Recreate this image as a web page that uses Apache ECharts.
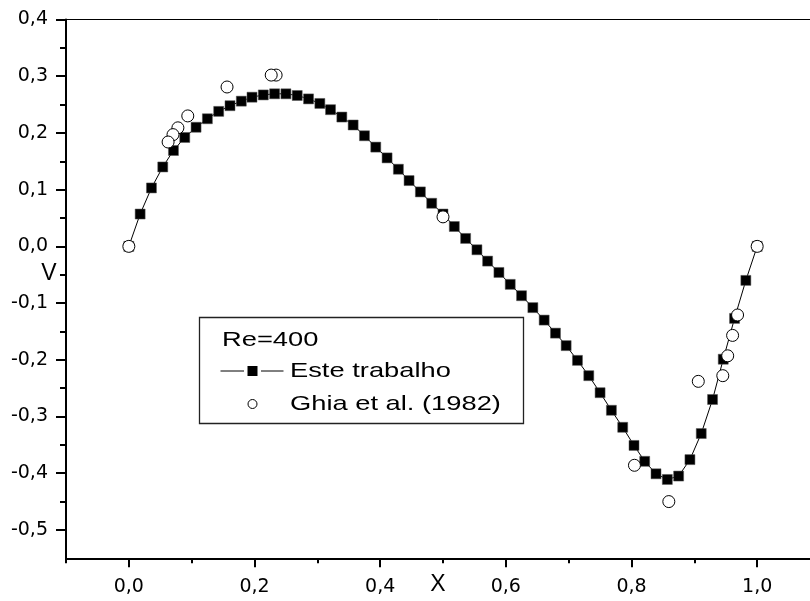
<!DOCTYPE html>
<html>
<head>
<meta charset="utf-8">
<script src="https://cdn.jsdelivr.net/npm/echarts@6/dist/echarts.min.js"></script>
<style>
  html, body { margin: 0; padding: 0; background: #fff; }
  #chart { width: 810px; height: 601px; }
</style>
</head>
<body>
<div id="chart"></div>
<script>
// Vertical velocity V along the horizontal centre line of the cavity, Re = 400
const xPresent = [0, 0.018, 0.036, 0.054, 0.071, 0.089, 0.107, 0.125, 0.143, 0.161,
  0.179, 0.196, 0.214, 0.232, 0.250, 0.268, 0.286, 0.304, 0.321, 0.339,
  0.357, 0.375, 0.393, 0.411, 0.429, 0.446, 0.464, 0.482, 0.500, 0.518,
  0.536, 0.554, 0.571, 0.589, 0.607, 0.625, 0.643, 0.661, 0.679, 0.696,
  0.714, 0.732, 0.750, 0.768, 0.786, 0.804, 0.821, 0.839, 0.857, 0.875,
  0.893, 0.911, 0.929, 0.946, 0.964, 0.982, 1.0];
const vPresent = [0, 0.057, 0.103, 0.140, 0.169, 0.192, 0.210, 0.225, 0.238, 0.248,
  0.256, 0.263, 0.267, 0.269, 0.269, 0.266, 0.260, 0.252, 0.241, 0.228,
  0.214, 0.195, 0.175, 0.156, 0.136, 0.116, 0.096, 0.076, 0.057, 0.035,
  0.014, -0.006, -0.026, -0.046, -0.067, -0.087, -0.108, -0.130, -0.153, -0.175,
  -0.201, -0.228, -0.258, -0.289, -0.319, -0.351, -0.379, -0.401, -0.411, -0.405,
  -0.376, -0.330, -0.270, -0.199, -0.127, -0.060, 0];

// Reference values, Ghia et al. (1982)
const xGhia = [1.0000, 0.9688, 0.9609, 0.9531, 0.9453, 0.9063, 0.8594, 0.8047, 0.5000,
  0.2344, 0.2266, 0.1563, 0.0938, 0.0781, 0.0703, 0.0625, 0.0000];
const vGhia = [0.000, -0.121, -0.157, -0.193, -0.228, -0.238, -0.450, -0.386, 0.052,
  0.302, 0.302, 0.281, 0.230, 0.209, 0.197, 0.184, 0.000];

const seriesNames = ['Este trabalho', 'Ghia et al. (1982)'];
const legendTitle = 'Re=400';
const xAxisTitle = 'X';
const yAxisTitle = 'V';

const xMajorTicks = [0, 0.2, 0.4, 0.6, 0.8, 1.0];
const xMinorTicks = [-0.1, 0.1, 0.3, 0.5, 0.7, 0.9, 1.1];
const yMajorTicks = [-0.5, -0.4, -0.3, -0.2, -0.1, 0, 0.1, 0.2, 0.3, 0.4];
const yMinorTicks = [-0.45, -0.35, -0.25, -0.15, -0.05, 0.05, 0.15, 0.25, 0.35];

const BLACK = '#000';
const tickFont = 'DejaVu Sans';
const textFont = '"Liberation Sans", Arial, sans-serif';
const fmt = v => (Math.abs(v) < 1e-9 ? 0 : v).toFixed(1).replace('.', ',');

const xRange = { min: -0.1, max: 1.1 };
const yRange = { min: -0.55, max: 0.4 };
const noSplit = { splitLine: { show: false } };

const chart = echarts.init(document.getElementById('chart'), null, { renderer: 'canvas' });

// legend texts are drawn slightly widened, like the rest of the lettering
const legendText = (text, x, y) => ({
  type: 'text', z: 11, x: x, y: y, scaleX: 1.3,
  style: { text: text, font: '21px ' + textFont, fill: BLACK,
    verticalAlign: 'middle', textVerticalAlign: 'middle' }
});

chart.setOption({
  animation: false,
  backgroundColor: '#fff',
  grid: { left: 66, top: 19.5, right: -10, bottom: 42.7,
    containLabel: false, outerBoundsMode: 'none' },
  xAxis: [
    {
      type: 'value', position: 'bottom', ...xRange, ...noSplit,
      axisLine: { onZero: false, lineStyle: { color: BLACK, width: 2 } },
      axisTick: { customValues: xMajorTicks, length: 9, lineStyle: { color: BLACK, width: 2 } },
      axisLabel: { customValues: xMajorTicks, formatter: fmt, margin: 19,
        color: BLACK, fontFamily: tickFont, fontSize: 19 }
    },
    {
      type: 'value', position: 'bottom', ...xRange, ...noSplit,
      axisLine: { show: false, onZero: false },
      axisTick: { customValues: xMinorTicks, length: 5, lineStyle: { color: BLACK, width: 2 } },
      axisLabel: { show: false }
    },
    {
      type: 'value', position: 'top', ...xRange, ...noSplit,
      axisLine: { onZero: false, lineStyle: { color: BLACK, width: 1 } },
      axisTick: { show: false },
      axisLabel: { show: false }
    }
  ],
  yAxis: [
    {
      type: 'value', position: 'left', ...yRange, ...noSplit,
      axisLine: { onZero: false, lineStyle: { color: BLACK, width: 2 } },
      axisTick: { customValues: yMajorTicks, length: 10, lineStyle: { color: BLACK, width: 2 } },
      axisLabel: { customValues: yMajorTicks, formatter: fmt, margin: 18,
        color: BLACK, fontFamily: tickFont, fontSize: 19 }
    },
    {
      type: 'value', position: 'left', ...yRange, ...noSplit,
      axisLine: { show: false, onZero: false },
      axisTick: { customValues: yMinorTicks, length: 6, lineStyle: { color: BLACK, width: 2 } },
      axisLabel: { show: false }
    }
  ],
  series: [
    {
      name: seriesNames[0], type: 'line', xAxisIndex: 0, yAxisIndex: 0,
      data: xPresent.map((x, i) => [x, vPresent[i]]),
      symbol: 'rect', symbolSize: 10, showAllSymbol: true,
      itemStyle: { color: BLACK, borderColor: '#555', borderWidth: 0.5 },
      lineStyle: { color: BLACK, width: 1 },
      z: 2
    },
    {
      name: seriesNames[1], type: 'scatter', xAxisIndex: 0, yAxisIndex: 0,
      data: xGhia.map((x, i) => [x, vGhia[i]]),
      symbol: 'circle', symbolSize: 12,
      itemStyle: { color: '#fff', borderColor: BLACK, borderWidth: 1, opacity: 1 },
      z: 3
    }
  ],
  graphic: [
    // axis titles
    { type: 'text', z: 5, x: 438, y: 585,
      style: { text: xAxisTitle, font: '23px ' + textFont, fill: BLACK,
        align: 'center', textAlign: 'center', verticalAlign: 'middle', textVerticalAlign: 'middle' } },
    { type: 'text', z: 5, x: 49, y: 274,
      style: { text: yAxisTitle, font: '23px ' + textFont, fill: BLACK,
        align: 'center', textAlign: 'center', verticalAlign: 'middle', textVerticalAlign: 'middle' } },
    // legend box
    { type: 'rect', z: 10, shape: { x: 199.5, y: 317.5, width: 324, height: 106 },
      style: { fill: '#fff', stroke: '#222', lineWidth: 1.3 } },
    legendText(legendTitle, 222, 340),
    { type: 'line', z: 11, shape: { x1: 220.5, y1: 371, x2: 244, y2: 371 },
      style: { stroke: BLACK, lineWidth: 1 } },
    { type: 'rect', z: 11, shape: { x: 247.5, y: 366, width: 10, height: 10 },
      style: { fill: BLACK } },
    { type: 'line', z: 11, shape: { x1: 261, y1: 371, x2: 283.5, y2: 371 },
      style: { stroke: BLACK, lineWidth: 1 } },
    legendText(seriesNames[0], 290, 371),
    { type: 'circle', z: 11, shape: { cx: 252.5, cy: 404, r: 4.5 },
      style: { fill: '#fff', stroke: BLACK, lineWidth: 1 } },
    legendText(seriesNames[1], 290, 404)
  ]
});
</script>
</body>
</html>
